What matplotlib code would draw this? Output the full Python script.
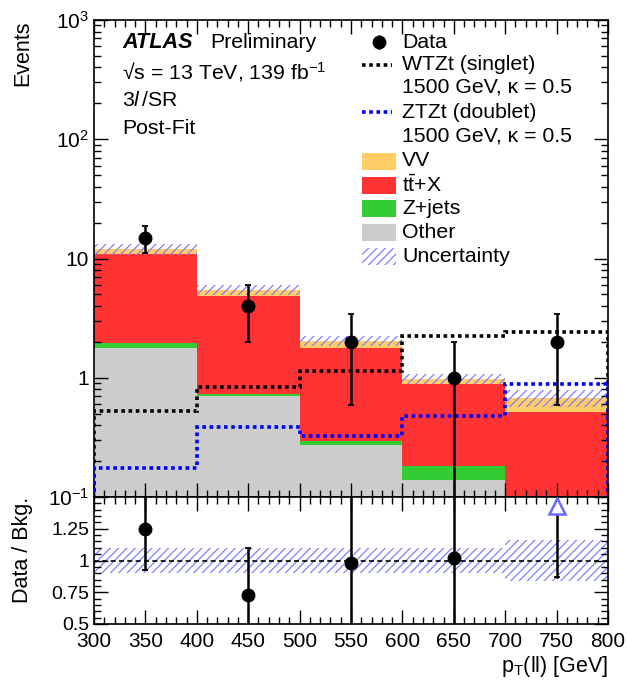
import numpy as np
import matplotlib
matplotlib.use("Agg")
import matplotlib.pyplot as plt
from matplotlib.patches import Rectangle
from matplotlib.ticker import MultipleLocator, FixedLocator, LogLocator, NullFormatter

plt.rcParams['font.family'] = ['Liberation Sans', 'DejaVu Sans']
plt.rcParams['mathtext.fontset'] = 'custom'
plt.rcParams['mathtext.rm'] = 'Liberation Sans'
plt.rcParams['mathtext.it'] = 'Liberation Sans:italic'
plt.rcParams['mathtext.bf'] = 'Liberation Sans:bold'
plt.rcParams['hatch.linewidth'] = 0.9

# ---------------- data ----------------
edges = np.array([300, 400, 500, 600, 700, 800])
other = np.array([1.77, 0.70, 0.275, 0.138, 0.03])
zjets = np.array([0.19, 0.03, 0.018, 0.044, 0.01])
ttx = np.array([8.94, 4.15, 1.48, 0.71, 0.48])
vv = np.array([1.10, 0.60, 0.27, 0.09, 0.156])
unc_rel = np.array([0.10, 0.10, 0.10, 0.10, 0.16])
data = np.array([15, 4, 2, 1, 2])
wtzt = np.array([0.53, 0.84, 1.15, 2.26, 2.41])
ztzt = np.array([0.175, 0.39, 0.325, 0.48, 0.885])

bkg_names = ['Other', 'Z+jets', r'$\mathrm{t\bar{t}}$+X', 'VV']
bkg_colors = ['#cccccc', '#33cc33', '#ff3333', '#ffcc66']
hatch_color = '#8080ff'
HATCH = '////'

# ---------------- figure ----------------
W, H = 628, 686
fig = plt.figure(figsize=(W / 100, H / 100), dpi=100)
L, R = 94, 608
T, M, B = 20, 497, 624
ax = fig.add_axes([L / W, 1 - M / H, (R - L) / W, (M - T) / H])
axr = fig.add_axes([L / W, 1 - B / H, (R - L) / W, (B - M) / H], sharex=ax)

centers = 0.5 * (edges[:-1] + edges[1:])
stack = [other, zjets, ttx, vv]
cum = np.zeros(len(other))
for comp, col in zip(stack, bkg_colors):
    top = cum + comp
    ax.stairs(np.maximum(top, 1e-4), edges, baseline=np.maximum(cum, 1e-4),
              fill=True, color=col, lw=0, zorder=1)
    cum = top
total = cum

# uncertainty band
ax.stairs(total * (1 + unc_rel), edges, baseline=total * (1 - unc_rel), fill=True,
          facecolor='none', edgecolor=hatch_color, hatch=HATCH, lw=0, zorder=2)

# signals
ax.stairs(wtzt, edges, color='black', ls=(0, (1, 1)), lw=2.6, zorder=3)
ax.stairs(ztzt, edges, color='#0000ff', ls=(0, (1, 1)), lw=2.6, zorder=3)

# data
err = np.sqrt(data)
lo = np.minimum(err, data - 1e-4)
ax.errorbar(centers, data, yerr=[lo, err], fmt='o', color='black', ms=9,
            elinewidth=1.8, capsize=2, capthick=1.3, zorder=5)

ax.set_yscale('log')
ax.set_ylim(0.1, 1000)
ax.set_xlim(300, 800)
ax.yaxis.set_major_locator(FixedLocator([0.1, 1, 10, 100, 1000]))
ax.set_yticklabels([r'$10^{-1}$', '1', '10', r'$10^{2}$', r'$10^{3}$'])
ax.yaxis.set_minor_locator(LogLocator(base=10, subs=np.arange(2, 10)))
ax.yaxis.set_minor_formatter(NullFormatter())
ax.set_ylabel('Events', fontsize=15.5, loc='top')
ax.yaxis.set_label_coords(-0.118, 1.0)
ax.tick_params(axis='x', labelbottom=False)

# ---------------- ratio ----------------
ratio = data / total
rerr = np.sqrt(data) / total
rtop = 1.5
axr.stairs(1 + unc_rel, edges, baseline=1 - unc_rel, fill=True, facecolor='none',
           edgecolor=hatch_color, hatch=HATCH, lw=0, zorder=1)
axr.axhline(1.0, color='black', ls=(0, (3, 2)), lw=1.2, zorder=2)
inr = ratio <= rtop
axr.errorbar(centers[inr], ratio[inr], yerr=rerr[inr], fmt='o', color='black', ms=9,
             elinewidth=1.8, capsize=2, capthick=1.3, zorder=5, clip_on=True)
for c, r, e in zip(centers[~inr], ratio[~inr], rerr[~inr]):
    axr.plot([c, c], [r - e, rtop], color='black', lw=1.8, zorder=4)
    axr.plot([c - 2, c + 2], [r - e, r - e], color='black', lw=1.3, zorder=4)
    axr.plot([c], [rtop - 0.07], marker='^', ms=11, mfc='white', mec='#6a6aff',
             mew=1.8, zorder=6)

axr.set_ylim(0.5, 1.5)
axr.yaxis.set_major_locator(FixedLocator([0.5, 0.75, 1.0, 1.25, 1.5]))
axr.set_yticklabels(['0.5', '0.75', '1', '1.25', ''])
axr.yaxis.set_minor_locator(MultipleLocator(0.05))
axr.xaxis.set_major_locator(MultipleLocator(50))
axr.xaxis.set_minor_locator(MultipleLocator(10))
axr.set_xlabel(r'p$_{\mathrm{T}}$(ll) [GeV]', fontsize=15.5, loc='right', labelpad=2)
axr.set_ylabel('Data / Bkg.', fontsize=15.5)
axr.yaxis.set_label_coords(-0.118, 0.58)

for a in (ax, axr):
    a.tick_params(which='both', direction='in', top=True, right=True, width=1.0)
    a.tick_params(which='major', length=10, labelsize=15)
    a.tick_params(which='minor', length=5)
    for s in a.spines.values():
        s.set_linewidth(1.2)
    a.set_axisbelow(False)
axr.tick_params(axis='y', labelsize=14)
axr.tick_params(axis='x', pad=6)

# ---------------- labels ----------------
def fx(x):
    return (x - L) / (R - L)

def fy(y):
    return (M - y) / (M - T)

fs = 15.3
ax.text(fx(122), fy(42), 'ATLAS', fontsize=15.6, fontweight='bold', fontstyle='italic',
        transform=ax.transAxes, va='center')
ax.text(fx(210), fy(42), 'Preliminary', fontsize=fs, transform=ax.transAxes, va='center')
ax.text(fx(122), fy(72), '√s = 13 TeV, 139 fb$^{-1}$', fontsize=fs,
        transform=ax.transAxes, va='center')
ax.text(fx(122), fy(100), '3$\\mathit{l}\\,$/SR', fontsize=fs, transform=ax.transAxes,
        va='center')
ax.text(fx(122), fy(128), 'Post-Fit', fontsize=fs, transform=ax.transAxes, va='center')

# manual legend
tx = fx(402)
ax.errorbar([fx(379)], [fy(42)], yerr=[[0.014], [0.014]], fmt='o', color='black', ms=9,
            elinewidth=1.8, capsize=0, transform=ax.transAxes, clip_on=False)
ax.text(tx, fy(42), 'Data', fontsize=fs, transform=ax.transAxes, va='center')
ax.plot([fx(362), fx(392)], [fy(65), fy(65)], color='black', ls=(0, (1, 1)), lw=2.6,
        transform=ax.transAxes)
ax.text(tx, fy(65), 'WTZt (singlet)', fontsize=fs, transform=ax.transAxes, va='center')
ax.text(tx, fy(87), '1500 GeV, κ = 0.5', fontsize=fs, transform=ax.transAxes, va='center')
ax.plot([fx(362), fx(392)], [fy(112), fy(112)], color='#0000ff', ls=(0, (1, 1)), lw=2.6,
        transform=ax.transAxes)
ax.text(tx, fy(112), 'ZTZt (doublet)', fontsize=fs, transform=ax.transAxes, va='center')
ax.text(tx, fy(136), '1500 GeV, κ = 0.5', fontsize=fs, transform=ax.transAxes, va='center')

box_w = fx(396) - fx(362)
box_h = 17 / (M - T)
for name, col, yy in zip(['VV', r'$\mathrm{t\bar{t}}$+X', 'Z+jets', 'Other'],
                         ['#ffcc66', '#ff3333', '#33cc33', '#cccccc'],
                         [161, 185, 208, 232]):
    ax.add_patch(Rectangle((fx(362), fy(yy) - box_h / 2), box_w, box_h, transform=ax.transAxes,
                           facecolor=col, edgecolor='none', clip_on=False))
    ax.text(tx, fy(yy), name, fontsize=fs, transform=ax.transAxes, va='center')
ax.add_patch(Rectangle((fx(362), fy(256) - box_h / 2), box_w, box_h, transform=ax.transAxes,
                       facecolor='none', edgecolor=hatch_color, hatch=HATCH, lw=0,
                       clip_on=False))
ax.text(tx, fy(256), 'Uncertainty', fontsize=fs, transform=ax.transAxes, va='center')

fig.savefig('out.png', dpi=100)
